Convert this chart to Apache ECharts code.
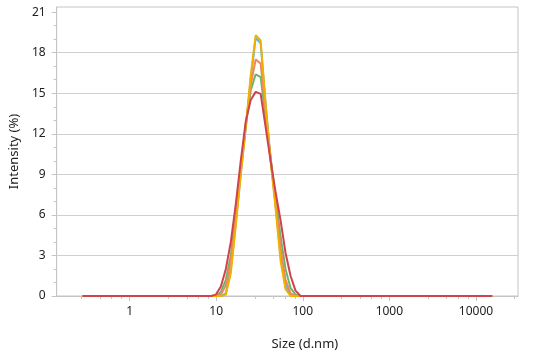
<!DOCTYPE html>
<html>
<head>
<meta charset="utf-8">
<script src="https://cdn.jsdelivr.net/npm/echarts@6/dist/echarts.min.js"></script>
<style>
html,body{margin:0;padding:0;background:#fff;}
#c{width:538px;height:360px;}
</style>
</head>
<body>
<div id="c"></div>
<script>
// Size classes (d.nm)
const sizes = [0.286, 8.69, 9.92, 11.33, 12.93, 14.76, 16.84, 19.22, 21.94, 25.04, 28.58, 32.62, 37.23, 42.5, 48.5, 55.4, 63.2, 72.2, 82.4, 94.1, 107.4, 15400];
// Intensity (%) for each record
const seriesBlue   = [0, 0, 0, 0, 0.2, 2.0, 5.4, 9.0, 12.4, 16.0, 19.1, 18.7, 14.2, 10.2, 6.7, 3.0, 0.8, 0.1, 0, 0, 0, 0];
const seriesGreen  = [0, 0, 0, 0.3, 1.2, 3.0, 6.2, 9.5, 12.7, 15.2, 16.4, 16.2, 13.2, 10.2, 7.3, 4.4, 2.0, 0.6, 0.1, 0, 0, 0];
const seriesOrange = [0, 0, 0, 0.1, 0.8, 2.6, 5.8, 9.2, 12.6, 15.6, 17.5, 17.2, 13.6, 10.2, 6.9, 3.6, 1.2, 0.2, 0, 0, 0, 0];
const seriesYellow = [0, 0, 0, 0, 0.1, 1.7, 5.2, 9.0, 12.5, 16.3, 19.3, 18.9, 14.2, 10.0, 6.5, 2.6, 0.5, 0, 0, 0, 0, 0];
const seriesRed    = [0, 0, 0.1, 0.7, 2.0, 4.0, 6.8, 10.0, 12.9, 14.5, 15.1, 14.95, 12.5, 10.0, 7.7, 5.6, 3.2, 1.5, 0.4, 0, 0, 0];

const xMajorTicks = [1, 10, 100, 1000, 10000];
const xMinorTicks = [0.28, 0.46, 0.62, 0.81, 2.8, 4.6, 6.2, 8.1, 28, 46, 62, 81, 280, 460, 620, 810, 2800, 4600, 6200, 8100, 28000];
const yMajorTicks = [0, 3, 6, 9, 12, 15, 18, 21];
const yMinorTicks = [1, 2, 4, 5, 7, 8, 10, 11, 13, 14, 16, 17, 19, 20];

const xMin = 0.1436, xMax = 30600;
const yMin = 0, yMax = 21.38;

function pairs(vals) { return sizes.map((s, i) => [s, vals[i]]); }

const lineDefs = [
  { name: 'Record 1', data: seriesBlue,   color: '#5bb7d8' },
  { name: 'Record 2', data: seriesGreen,  color: '#66b86a' },
  { name: 'Record 3', data: seriesOrange, color: '#f0875c' },
  { name: 'Record 4', data: seriesYellow, color: '#f2b000' },
  { name: 'Record 5', data: seriesRed,    color: '#d0434e' }
];

const chart = echarts.init(document.getElementById('c'), null, { renderer: 'canvas' });
const axisGrey = '#c4c4c4';
const txt = '#222222';
const font = 'Noto Sans';

chart.setOption({
  animation: false,
  backgroundColor: '#ffffff',
  grid: { left: 55, right: 20, top: 7, bottom: 64, show: true, borderColor: axisGrey, borderWidth: 1, backgroundColor: 'transparent' },
  xAxis: [
    {
      type: 'log', min: xMin, max: xMax, logBase: 10,
      name: 'Size (d.nm)', nameLocation: 'middle', nameGap: 42,
      nameTextStyle: { fontFamily: font, fontSize: 13, color: txt, padding: [0, 0, 0, 35] },
      axisLine: { show: true, lineStyle: { color: axisGrey } },
      axisTick: { show: true, length: 5, lineStyle: { color: axisGrey }, customValues: xMajorTicks },
      axisLabel: { fontFamily: font, fontSize: 12, color: txt, margin: 10, customValues: xMajorTicks, formatter: v => String(Math.round(v)) },
      splitLine: { show: false }, minorTick: { show: false }
    },
    {
      type: 'log', min: xMin, max: xMax, logBase: 10, position: 'bottom', gridIndex: 0,
      axisLine: { show: false },
      axisTick: { show: true, length: 3, lineStyle: { color: axisGrey }, customValues: xMinorTicks },
      axisLabel: { show: false }, splitLine: { show: false }
    }
  ],
  yAxis: [
    {
      type: 'value', min: yMin, max: yMax,
      name: 'Intensity (%)', nameLocation: 'middle', nameGap: 33,
      nameTextStyle: { fontFamily: font, fontSize: 13, color: txt },
      axisLine: { show: true, lineStyle: { color: axisGrey } },
      axisTick: { show: true, length: 5, lineStyle: { color: axisGrey }, customValues: yMajorTicks },
      axisLabel: { fontFamily: font, fontSize: 12, color: txt, margin: 11, customValues: yMajorTicks },
      splitLine: { show: true, lineStyle: { color: '#d0d0d0', width: 1 }, showMaxLine: false }
    },
    {
      type: 'value', min: yMin, max: yMax, position: 'left',
      axisLine: { show: false },
      axisTick: { show: true, length: 3, lineStyle: { color: axisGrey }, customValues: yMinorTicks },
      axisLabel: { show: false }, splitLine: { show: false }
    }
  ],
  series: lineDefs.map(d => ({
    name: d.name, type: 'line', xAxisIndex: 0, yAxisIndex: 0,
    data: pairs(d.data), showSymbol: false, symbol: 'none',
    lineStyle: { color: d.color, width: 2 }, itemStyle: { color: d.color }
  }))
});
</script>
</body>
</html>
